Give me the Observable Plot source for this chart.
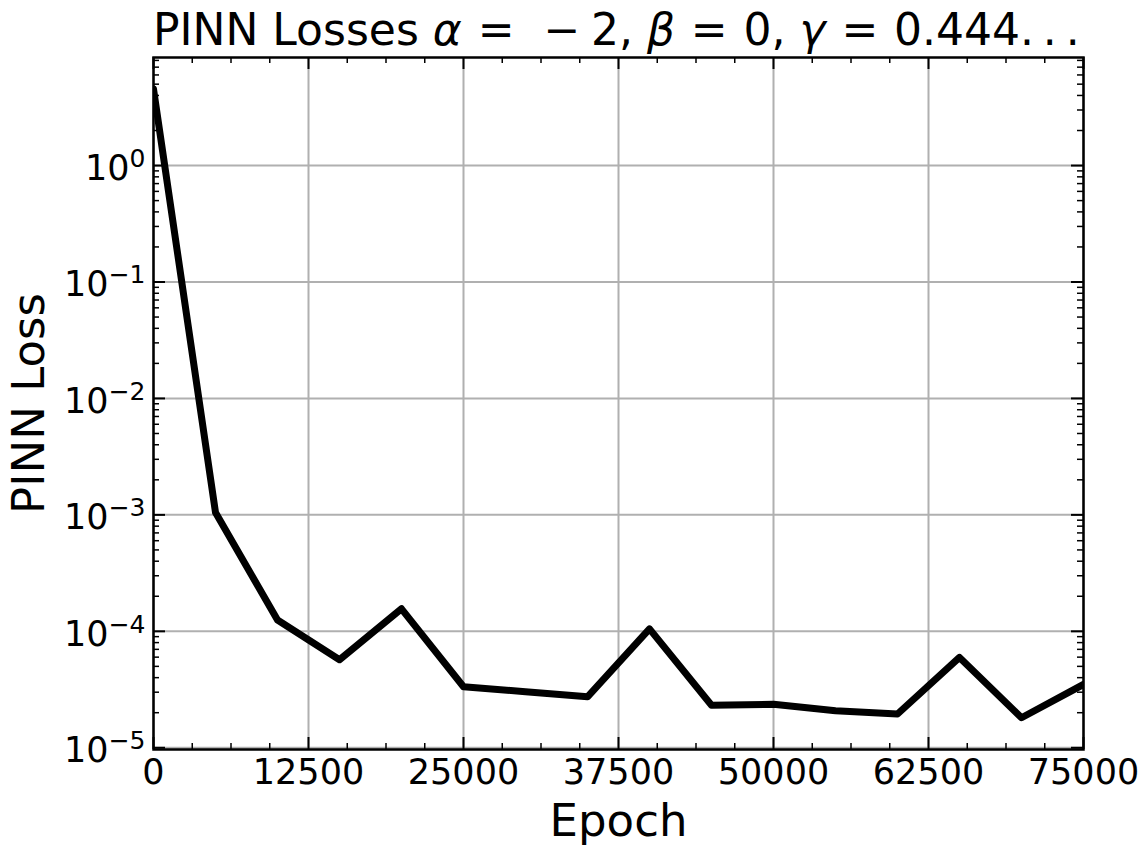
<!DOCTYPE html>
<html><head><meta charset="utf-8">
<script src="https://cdn.jsdelivr.net/npm/d3@7"></script>
<script src="https://cdn.jsdelivr.net/npm/@observablehq/plot@0.6"></script>
<style>
body{margin:0;background:#fff;}
#wrap{position:relative;width:1148px;height:854px;font-family:"DejaVu Sans";}
#wrap svg{display:block;}
#title{position:absolute;left:153px;width:930px;top:4px;text-align:center;font-size:44px;line-height:52px;white-space:nowrap;color:#000;}
#title i{font-style:italic;}
#title .rel{margin:0 0.36em;}
#title .bin{margin:0 0.24em 0 0.3em;}
#title .dots{letter-spacing:0.2em;}
</style></head><body>
<div id="wrap"><div id="title">PINN Losses <i>α</i><span class="rel">=</span><span class="bin">−</span>2, <i>β</i><span class="rel">=</span>0, <i>γ</i><span class="rel">=</span>0.444<span class="dots">...</span></div></div>
<script>
// data
const epochs = [0, 5000, 10000, 15000, 20000, 25000, 30000, 35000, 40000, 45000, 50000, 55000, 60000, 65000, 70000, 75000];
const losses = [4.55, 1.05e-3, 1.25e-4, 5.7e-5, 1.56e-4, 3.34e-5, 3.03e-5, 2.74e-5, 1.05e-4, 2.32e-5, 2.36e-5, 2.08e-5, 1.95e-5, 5.97e-5, 1.81e-5, 3.5e-5];
const xTicks = [0, 12500, 25000, 37500, 50000, 62500, 75000];
const yTicks = [1e-5, 1e-4, 1e-3, 1e-2, 1e-1, 1];
const xLabel = "Epoch";
const yLabel = "PINN Loss";

const data = epochs.map((e, i) => ({epoch: e, loss: losses[i]}));

const W = 1148, H = 854, mL = 153, mR = 65, mT = 57, mB = 105;
const pw = W - mL - mR, ph = H - mT - mB;
const yDomain = [Math.pow(10, -5.015), Math.pow(10, 0.928)];

const xMinor = d3.range(0, 75001, 3125).filter(v => v % 12500 !== 0);
const yMinor = [];
for (let k = -6; k <= 0; k++) for (let m = 2; m <= 9; m++) {
  const v = m * Math.pow(10, k);
  if (v >= yDomain[0] && v <= yDomain[1]) yMinor.push(v);
}

const gridColor = "#b0b0b0";
const svg = Plot.plot({
  width: W, height: H,
  marginLeft: mL, marginRight: mR, marginTop: mT, marginBottom: mB,
  style: {fontFamily: "DejaVu Sans", fontSize: "35px", color: "#000", background: "#fff"},
  x: {domain: [0, 75000]},
  y: {type: "log", domain: yDomain},
  marks: [
    Plot.ruleX(xTicks, {stroke: gridColor, strokeWidth: 2}),
    Plot.ruleY(yTicks, {stroke: gridColor, strokeWidth: 2}),
    Plot.line(data, {x: "epoch", y: "loss", stroke: "#000", strokeWidth: 7, strokeLinejoin: "round", clip: true}),
    // major ticks (inward)
    Plot.ruleX(xTicks, {stroke: "#000", strokeWidth: 2, insetTop: ph - 12}),
    Plot.ruleX(xTicks, {stroke: "#000", strokeWidth: 2, insetBottom: ph - 12}),
    Plot.ruleY(yTicks, {stroke: "#000", strokeWidth: 2, insetRight: pw - 12}),
    Plot.ruleY(yTicks, {stroke: "#000", strokeWidth: 2, insetLeft: pw - 12}),
    // minor ticks
    Plot.ruleX(xMinor, {stroke: "#000", strokeWidth: 1.5, insetTop: ph - 6}),
    Plot.ruleX(xMinor, {stroke: "#000", strokeWidth: 1.5, insetBottom: ph - 6}),
    Plot.ruleY(yMinor, {stroke: "#000", strokeWidth: 1.5, insetRight: pw - 6}),
    Plot.ruleY(yMinor, {stroke: "#000", strokeWidth: 1.5, insetLeft: pw - 6}),
    Plot.frame({stroke: "#000", strokeWidth: 2.5}),
    Plot.axisX({ticks: xTicks, tickSize: 0, tickPadding: 10, tickFormat: d => String(d), fontSize: 35, label: null}),
    Plot.axisY({ticks: yTicks, tickSize: 0, tickPadding: 8, dy: 3, tickFormat: d => `10^${Math.round(Math.log10(d))}`, fontSize: 35, label: null}),
    Plot.text([xLabel], {text: d => d, frameAnchor: "bottom", lineAnchor: "top", dy: 55, fontSize: 45}),
    Plot.text([yLabel], {text: d => d, frameAnchor: "left", textAnchor: "middle", lineAnchor: "middle", rotate: -90, dx: -124, fontSize: 45})
  ]
});

svg.querySelectorAll('[aria-label="y-axis tick label"] text').forEach(t => {
  const parts = t.textContent.split("^");
  t.textContent = parts[0];
  const ts = document.createElementNS("http://www.w3.org/2000/svg", "tspan");
  ts.setAttribute("dy", "-13");
  ts.setAttribute("font-size", "25");
  ts.textContent = parts[1].replace("-", "\u2212");
  t.appendChild(ts);
});

document.getElementById("wrap").prepend(svg);
</script>
</body></html>
